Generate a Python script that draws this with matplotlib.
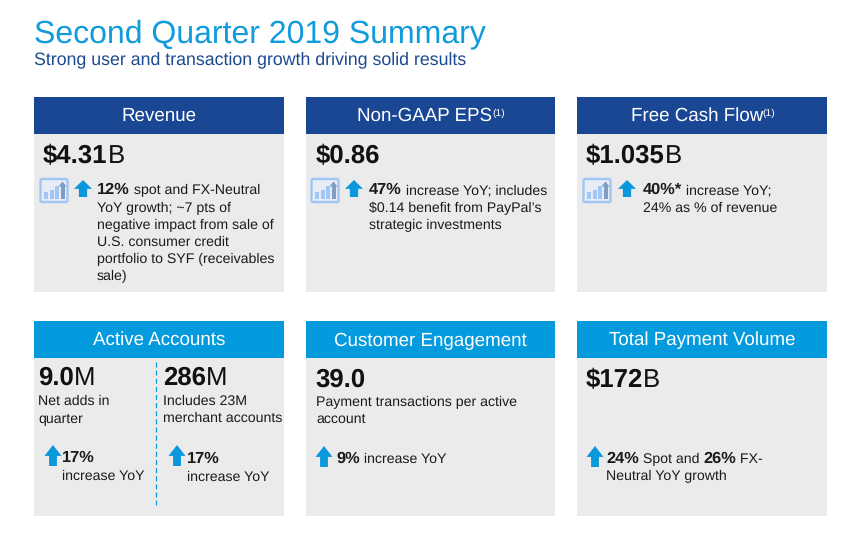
"""Second quarter summary slide, drawn on a pixel-sized axes."""
import matplotlib
matplotlib.use("Agg")
import matplotlib.pyplot as plt
from matplotlib.patches import Rectangle, Polygon, FancyBboxPatch

# ── Style ──────────────────────────────────────────────────────────────────
TITLE_BLUE = "#0f9bdc"
SUB_BLUE = "#1c4a8f"
DARK_BLUE = "#1a4794"
LIGHT_BLUE = "#049ade"
ARROW_BLUE = "#0b97dc"
CARD_BG = "#ebebec"
TEXT = "#1b1b1b"
BODY = 10.2
BOLD = 11.8
HEAD = 13.5

plt.rcParams["font.family"] = ["Liberation Sans", "DejaVu Sans"]
plt.rcParams["text.hinting"] = "no_hinting"
plt.rcParams["text.kerning_factor"] = 0

# ── Content ────────────────────────────────────────────────────────────────
TITLE = "Second Quarter 2019 Summary"
SUBTITLE = "Strong user and transaction growth driving solid results"

top_headers = ["Revenue", "Non-GAAP EPS", "Free Cash Flow"]
top_notes = ["", "(1)", "(1)"]
top_big = ["$4.31", "$0.86", "$1.035"]
top_units = ["B", "", "B"]
top_pcts = ["12%", "47%", "40%*"]
top_first = [" spot and FX-Neutral", " increase YoY; includes", " increase YoY;"]
top_rest = [
    ["YoY growth; ~7 pts of", "negative impact from sale of", "U.S. consumer credit",
     "portfolio to SYF (receivables", "sale)"],
    ["$0.14 benefit from PayPal\u2019s", "strategic investments"],
    ["24% as % of revenue"],
]
bottom_headers = ["Active Accounts", "Customer Engagement", "Total Payment Volume"]
bottom_head_y = [345, 346, 345]

fig = plt.figure(figsize=(8.51, 5.35), dpi=100, facecolor="white")
ax = fig.add_axes([0, 0, 1, 1])
ax.set_xlim(0, 851)
ax.set_ylim(535, 0)
ax.axis("off")


def rich(x, y, parts, size=BODY, bold_size=None, color=TEXT):
    """Write (text, bold) runs one after another on a baseline."""
    rend = fig.canvas.get_renderer()
    bold_size = bold_size or size
    for txt, bold in parts:
        fs = bold_size if bold else size
        w = "bold" if bold else "normal"
        ax.text(x, y, txt, fontsize=fs, color=color, va="baseline", fontweight=w)
        # spaces at the ends don't count in the extent, so measure with stand-ins
        probe = ax.text(0, 0, txt.replace(" ", "n"), fontsize=fs, fontweight=w)
        n_sp = txt.count(" ")
        x += probe.get_window_extent(rend).width - n_sp * 0.278 * fs * 100 / 72
        probe.remove()
    return x


def card(x0, x1, y0, color):
    ax.add_patch(Rectangle((x0, y0), x1 - x0, 195, fc=CARD_BG, ec="none"))
    ax.add_patch(Rectangle((x0, y0), x1 - x0, 36.5, fc=color, ec="none"))


def arrow(cx, top, w, h):
    stem = w * 0.23
    head_h = h * 0.52
    ax.add_patch(Polygon(
        [(cx, top), (cx + w / 2, top + head_h), (cx + stem, top + head_h),
         (cx + stem, top + h), (cx - stem, top + h), (cx - stem, top + head_h),
         (cx - w / 2, top + head_h)], fc=ARROW_BLUE, ec="none"))


def chart_icon(x, y):
    ax.add_patch(FancyBboxPatch((x, y), 27, 23, boxstyle="round,pad=0,rounding_size=1.5",
                                fc="#e8ecf4", ec="#9fc6f5", lw=1.7))
    for dx, h in [(3.5, 6.5), (9, 9), (14, 13)]:
        ax.add_patch(Rectangle((x + dx, y + 19.5 - h), 4, h, fc="#9fc6f5", ec="none"))
    ax.add_patch(Rectangle((x + 20, y + 7), 4, 12.5, fc="#7f9cc4", ec="none"))
    ax.add_patch(Polygon([(x + 22, y + 2.5), (x + 26, y + 7.5), (x + 18, y + 7.5)],
                         fc="#7f9cc4", ec="none"))


# ── Title ──────────────────────────────────────────────────────────────────
ax.text(34, 42, TITLE, fontsize=23, color=TITLE_BLUE, va="baseline")
ax.text(34, 64, SUBTITLE, fontsize=12.8, color=SUB_BLUE, va="baseline")

columns = [(34, 284), (306, 555), (577, 827)]
centres = [159, 430, 702]

# ── Top row ────────────────────────────────────────────────────────────────
text_x = [97, 369, 643]
big_x = [43, 316, 586]
icon_x = [40.5, 311.5, 583.5]
arrow_x = [83, 354, 627]
for i, (x0, x1) in enumerate(columns):
    card(x0, x1, 97, DARK_BLUE)
    end = ax.text(centres[i] - (5 if top_notes[i] else 0), 121, top_headers[i],
                  fontsize=HEAD, color="white", ha="center", va="baseline")
    if top_notes[i]:
        bb = end.get_window_extent(fig.canvas.get_renderer())
        ax.text(bb.x1 - 0.5, 116, top_notes[i], fontsize=7.5, color="white",
                va="baseline")
    rich(big_x[i], 163, [(top_big[i], True), (top_units[i], False)], size=18.5,
         color="#111111")
    chart_icon(icon_x[i], 179)
    arrow(arrow_x[i], 180, 18, 17)
    rich(text_x[i], 194, [(top_pcts[i], True), (top_first[i], False)], bold_size=BOLD)
    for j, line in enumerate(top_rest[i]):
        ax.text(text_x[i], 212 + j * 17, line, fontsize=BODY, color=TEXT,
                va="baseline")

# ── Bottom row ─────────────────────────────────────────────────────────────
for i, (x0, x1) in enumerate(columns):
    card(x0, x1, 321, LIGHT_BLUE)
    ax.text(centres[i], bottom_head_y[i], bottom_headers[i], fontsize=HEAD, color="white",
            ha="center", va="baseline")

# Active accounts, two halves
ax.plot([155.5, 155.5], [362, 505], color=LIGHT_BLUE, lw=0.9, ls=(0, (4, 2.5)))
rich(38, 385, [("9.0", True), ("M", False)], size=18.5, color="#111111")
rich(163, 385, [("286", True), ("M", False)], size=18.5, color="#111111")
ax.text(38, 405, "Net adds in", fontsize=BODY, color=TEXT, va="baseline")
ax.text(38, 422, "quarter", fontsize=BODY, color=TEXT, va="baseline")
ax.text(163, 405, "Includes 23M", fontsize=BODY, color=TEXT, va="baseline")
ax.text(163, 422, "merchant accounts", fontsize=BODY, color=TEXT, va="baseline")
arrow(53, 445, 17, 21)
arrow(177, 445, 17, 21)
rich(62, 462, [("17%", True)], bold_size=BOLD)
rich(187, 463, [("17%", True)], bold_size=BOLD)
ax.text(62, 480, "increase YoY", fontsize=BODY, color=TEXT, va="baseline")
ax.text(187, 481, "increase YoY", fontsize=BODY, color=TEXT, va="baseline")

# Customer engagement
rich(315.5, 387, [("39.0", True)], size=18.5, color="#111111")
ax.text(316, 406, "Payment transactions per active", fontsize=BODY, color=TEXT,
        va="baseline")
ax.text(316, 423, "account", fontsize=BODY, color=TEXT, va="baseline")
arrow(324, 446, 17, 21)
rich(336, 463, [("9%", True), (" increase YoY", False)], bold_size=BOLD)

# Total payment volume
rich(586, 387, [("$172", True), ("B", False)], size=18.5, color="#111111")
arrow(595, 446, 17, 21)
rich(606, 463, [("24%", True), (" Spot and ", False), ("26%", True), (" FX-", False)],
     bold_size=BOLD)
ax.text(606, 480, "Neutral YoY growth", fontsize=BODY, color=TEXT, va="baseline")

fig.savefig("out.png", dpi=100, facecolor="white")
